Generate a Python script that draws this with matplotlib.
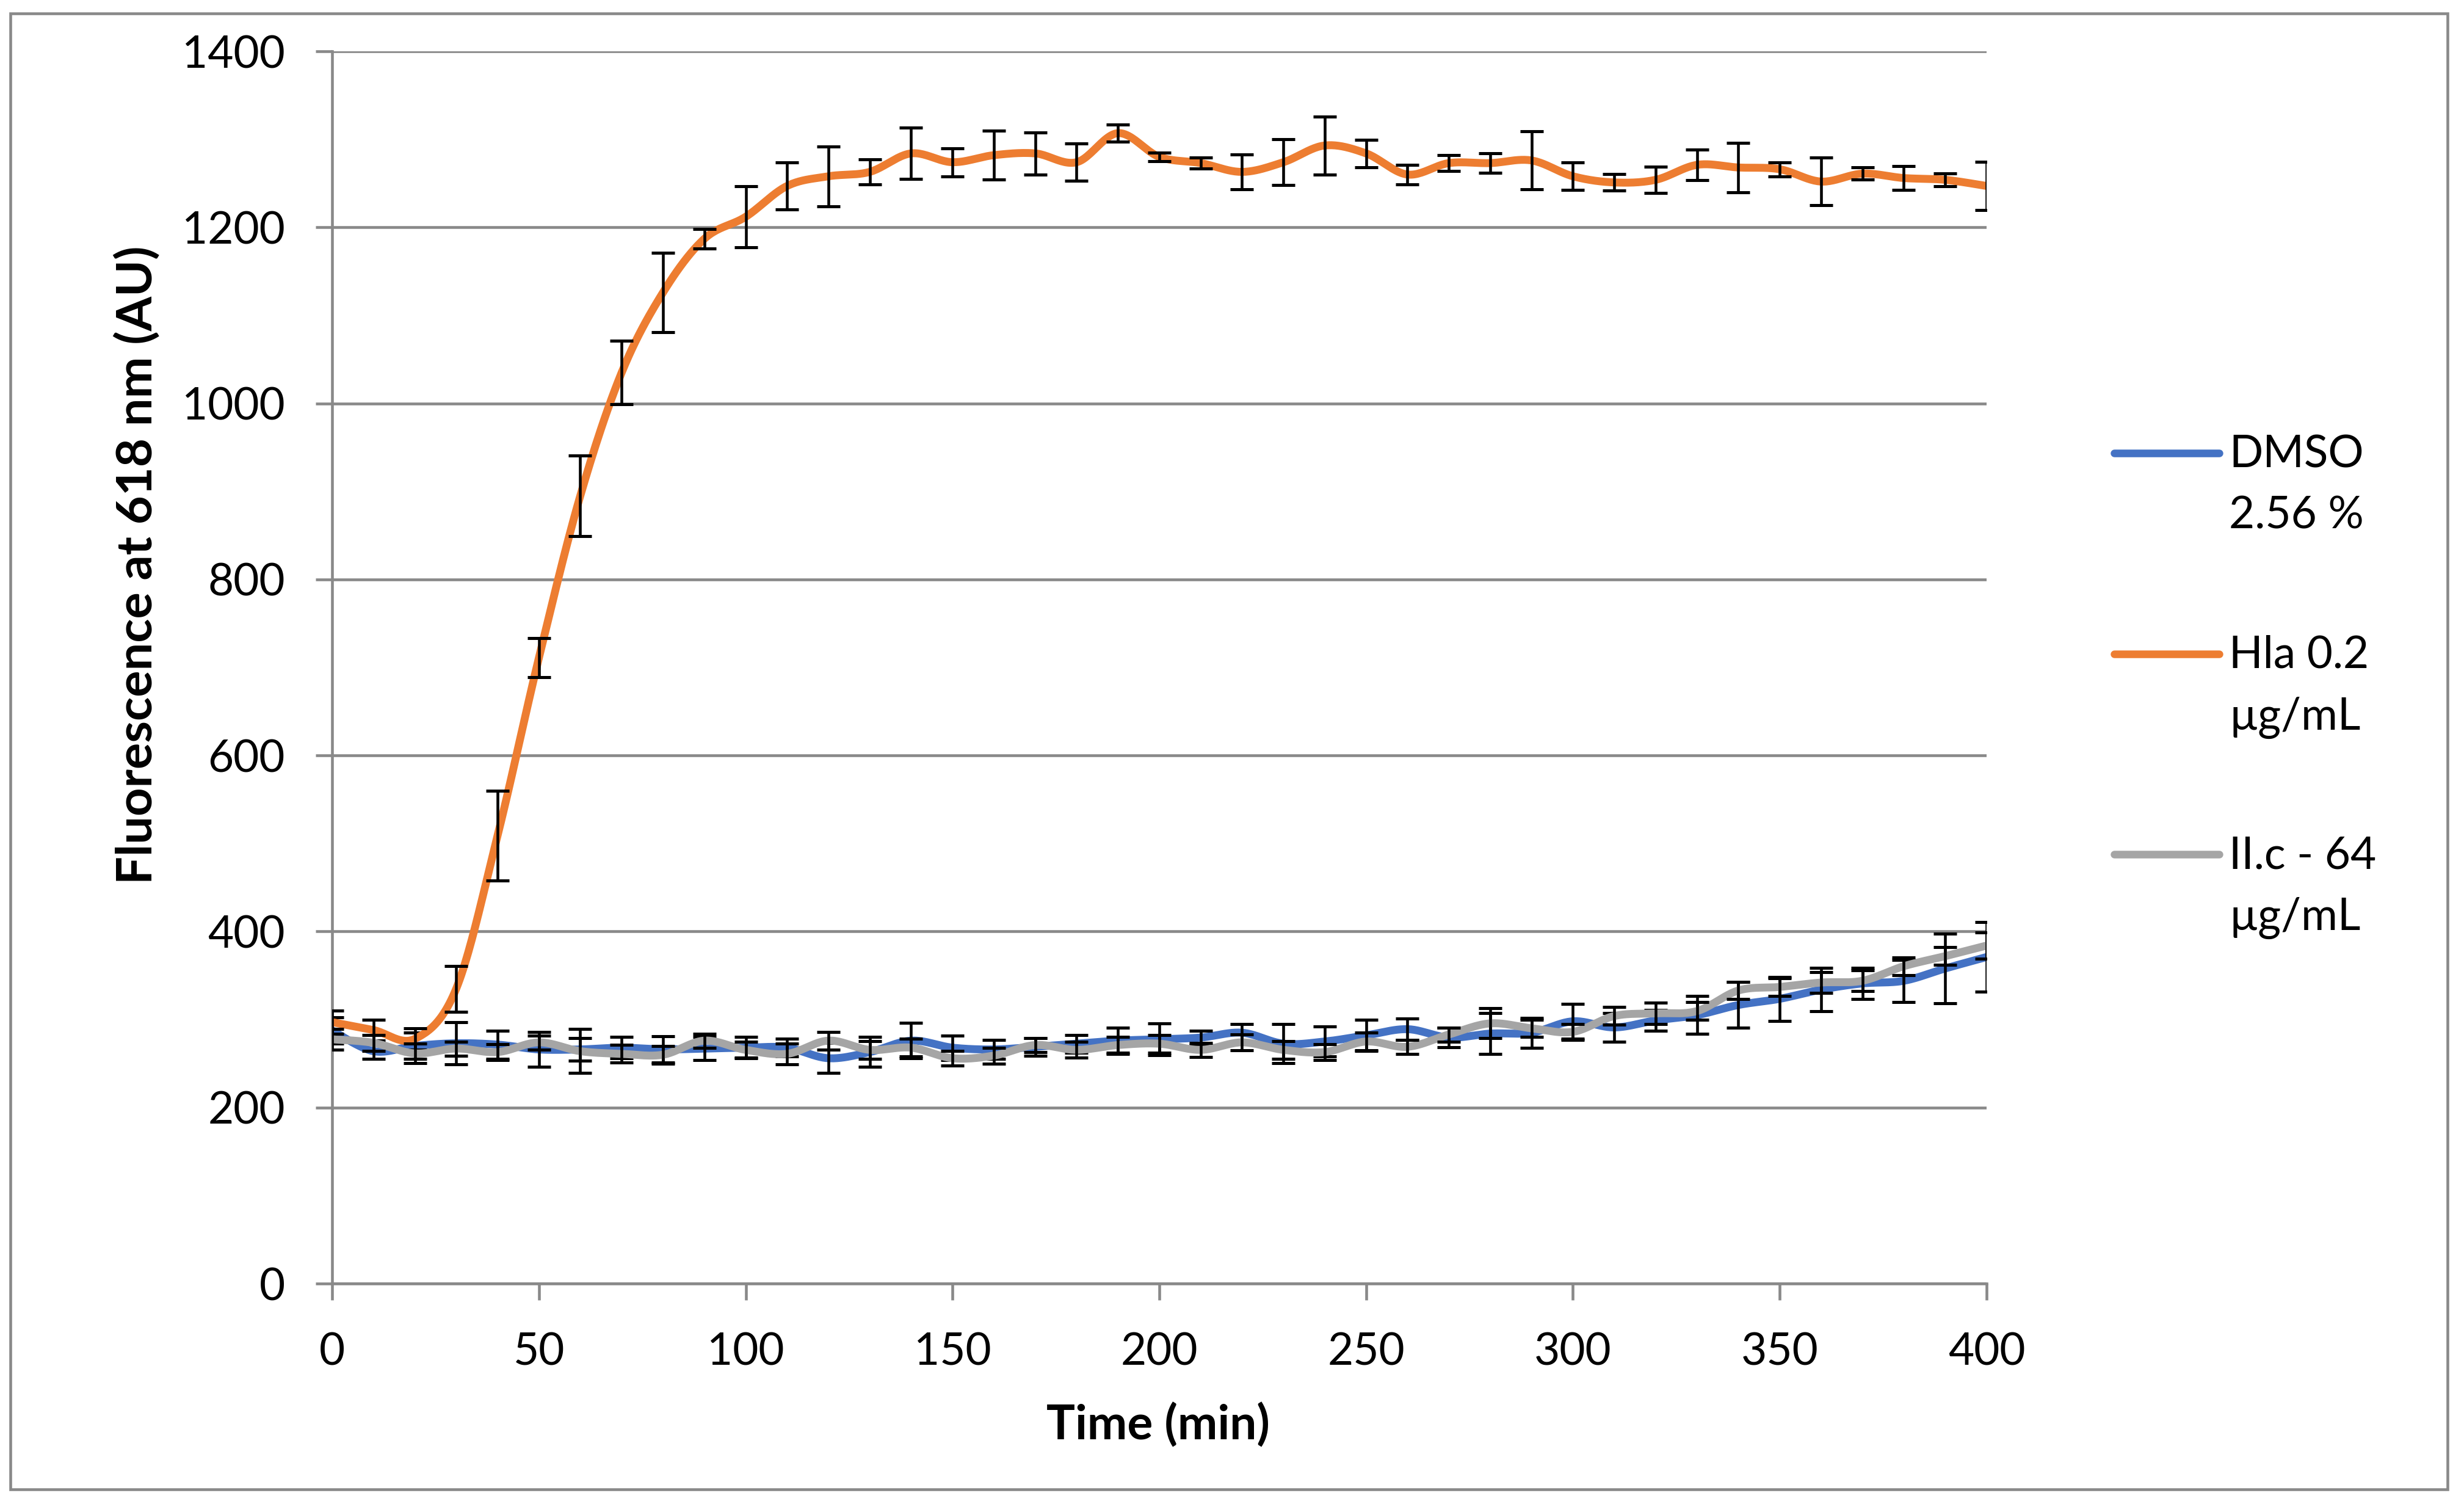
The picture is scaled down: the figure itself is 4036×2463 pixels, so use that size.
import numpy as np
import matplotlib
matplotlib.use("Agg")
import matplotlib.pyplot as plt
from matplotlib.lines import Line2D
from matplotlib.patches import Rectangle

# ---------------- data ----------------
time_min = list(range(0, 401, 10))

dmso = [287.6, 264, 270, 273, 271.5, 266, 266, 268, 266, 267, 268, 268, 256, 263, 276, 268,
        266, 269, 272.5, 276, 277.5, 279.5, 285, 272.5, 275, 282, 289, 279.5, 284, 285, 298,
        291, 299, 305, 316.5, 323.5, 334, 341, 344, 358, 371]
dmso_err = [15, 9, 15, 24, 16, 20, 13, 12, 15, 13, 12, 10, 17, 17, 20, 14, 11, 10, 10, 15, 18,
            8, 10, 22, 17, 18, 12, 11, 23, 17, 20, 16.5, 12, 21.5, 26, 25, 24.5, 18, 24, 39.6, 39.7]

hla = [297, 288, 278, 335, 509, 711, 895, 1035, 1126, 1187, 1212, 1247, 1258, 1263, 1284, 1274,
       1282, 1284, 1274, 1307, 1280, 1273, 1263, 1274, 1293, 1284, 1260, 1273, 1273, 1276, 1258,
       1251, 1254, 1271, 1268, 1266, 1252, 1261, 1256, 1254, 1247]
hla_err = [13, 12, 12, 26, 51, 22, 46, 36, 45, 11, 35, 27, 34, 14, 29, 16, 28, 24, 21, 10, 5,
           6, 20, 26, 33, 15.6, 11, 9, 11, 33, 15.5, 9.5, 15, 17.5, 28, 8, 27, 7, 13.6, 7, 27.7]

iic = [277.5, 273.5, 261.5, 267, 263, 274, 264, 261, 260, 276, 265.5, 261, 276, 265.5, 268, 256,
       259, 271, 265.5, 271, 272.5, 265.5, 274, 265.5, 263, 275, 269, 283, 295.6, 290, 286,
       304, 307, 309.6, 333, 337, 342, 344, 360.6, 372, 384]
iic_err = [11.5, 9, 11, 8, 9, 8, 25, 10, 10, 8, 9, 11.6, 10, 10, 10, 8, 9, 8, 9, 9, 10, 8, 9, 10,
           9, 10, 8, 8, 17, 10, 9, 10, 12, 10, 10, 10, 12, 12, 10, 10, 15]

series_labels = ["DMSO\n2.56 %", "Hla 0.2\nµg/mL", "II.c - 64\nµg/mL"]
series_colors = ["#4472C4", "#ED7D31", "#A5A5A5"]

x_ticks = list(range(0, 401, 50))
y_ticks = list(range(0, 1401, 200))
x_label = "Time (min)"
y_label = "Fluorescence at 618 nm (AU)"

# ---------------- helpers ----------------
def smooth_path(x, y, n=24):
    """Excel-style smoothed line (Bezier through the points, Catmull-Rom tangents)."""
    P = np.column_stack([np.asarray(x, float), np.asarray(y, float)])
    Q = np.vstack([P[0], P, P[-1]])
    t = np.linspace(0, 1, n, endpoint=False)[:, None]
    segs = []
    for i in range(1, len(Q) - 2):
        p0, p1, p2, p3 = Q[i - 1], Q[i], Q[i + 1], Q[i + 2]
        c1 = p1 + (p2 - p0) / 6.0
        c2 = p2 - (p3 - p1) / 6.0
        b = ((1 - t) ** 3) * p1 + 3 * ((1 - t) ** 2) * t * c1 + 3 * (1 - t) * t ** 2 * c2 + t ** 3 * p2
        segs.append(b)
    segs.append(P[-1][None, :])
    S = np.vstack(segs)
    return S[:, 0], S[:, 1]

# ---------------- figure ----------------
W, H, DPI = 4036, 2463, 300
plt.rcParams['font.family'] = ['Lato', 'DejaVu Sans']
fig = plt.figure(figsize=(W / DPI, H / DPI), dpi=DPI)
fig.patch.set_facecolor("white")

GRAY = "#898989"
FS = 17.5

# chart-area border
fig.patches.append(Rectangle((17 / W, 1 - 2439 / H), (4009 - 17) / W, (2439 - 22) / H,
                             transform=fig.transFigure, fill=False, edgecolor=GRAY,
                             linewidth=1.1, zorder=0))

left, right, top, bottom = 544 / W, 3254 / W, 1 - 84 / H, 1 - 2102 / H
ax = fig.add_axes([left, bottom, right - left, top - bottom])

ax.set_xlim(0, 400)
ax.set_ylim(0, 1400)
ax.set_xticks(x_ticks)
ax.set_yticks(y_ticks)
ax.tick_params(axis='both', direction='out', length=6.5, width=1.1, color=GRAY,
               labelsize=FS, labelcolor='black')
ax.tick_params(axis='y', pad=12)
ax.tick_params(axis='x', pad=12.5)
for s in ['top', 'right']:
    ax.spines[s].set_visible(False)
for s in ['left', 'bottom']:
    ax.spines[s].set_color(GRAY)
    ax.spines[s].set_linewidth(1.1)
ax.yaxis.grid(True, color=GRAY, linewidth=1.1)
ax.set_axisbelow(True)

data = [(dmso, dmso_err), (hla, hla_err), (iic, iic_err)]
for k, ((vals, errs), col) in enumerate(zip(data, series_colors)):
    sx, sy = smooth_path(time_min, vals)
    ax.plot(sx, sy, color=col, linewidth=3.1, solid_capstyle='round', zorder=3 + 2 * k)
    ax.errorbar(time_min, vals, yerr=errs, fmt='none', ecolor='black', elinewidth=1.1,
                capsize=4.6, capthick=1.2, zorder=4 + 2 * k)

# axis titles
fig.text(225 / W, 1 - 925 / H, y_label, rotation=90, ha='center', va='center',
         fontsize=19.5, fontweight='bold')
fig.text(1897 / W, 1 - 2334 / H, x_label, ha='center', va='center',
         fontsize=18.8, fontweight='bold')

# legend (right side)
for k, (lab, col) in enumerate(zip(series_labels, series_colors)):
    ly = 742 + 328.5 * k
    fig.lines.append(Line2D([3463 / W, 3635 / W], [1 - ly / H, 1 - ly / H],
                            transform=fig.transFigure, color=col, linewidth=3.0,
                            solid_capstyle='round'))
    for j, line in enumerate(lab.split("\n")):
        by = ly + 23 + 101 * j
        fig.text(3651 / W, 1 - by / H, line, ha='left', va='baseline', fontsize=FS)

fig.savefig("out.png", dpi=DPI, facecolor="white")
